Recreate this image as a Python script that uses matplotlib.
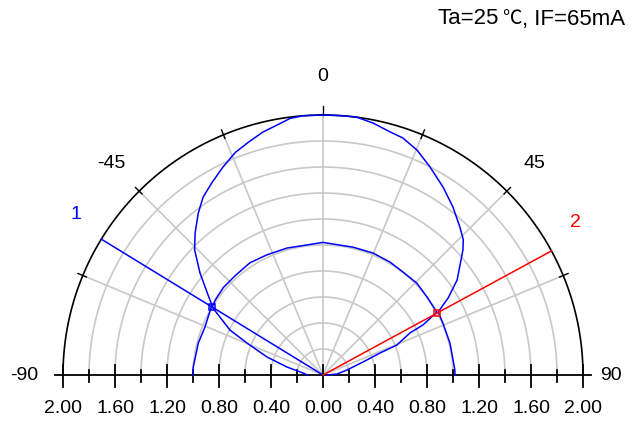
import numpy as np
import matplotlib
matplotlib.use("Agg")
import matplotlib.pyplot as plt

plt.rcParams['font.family'] = ['Liberation Sans', 'DejaVu Sans']

# Curve 1: outer lobe (angle in degrees from vertical, relative value 0..2)
angA = [-90, -86.5, -75.6, -67.9, -57.8, -54.7, -50.3, -45.7, -42.0, -37.7,
        -34.0, -29.9, -25.7, -21.5, -17.8, -13.9, -10.4, -7.3, -4.4, 0,
        4.4, 7.5, 11.2, 15.4, 18.6, 22.7, 27.2, 32.6, 37.7, 42.8,
        46.0, 48.2, 54.7, 58.4, 61.3, 66.6, 75.9, 87.8, 90]
rA = [1.00, 1.00, 0.99, 0.98, 1.01, 1.09, 1.23, 1.38, 1.47, 1.57,
      1.65, 1.71, 1.775, 1.84, 1.88, 1.925, 1.955, 1.99, 2.00, 2.00,
      2.00, 2.00, 1.976, 1.94, 1.924, 1.875, 1.80, 1.715, 1.634, 1.55,
      1.50, 1.444, 1.264, 1.13, 1.01, 1.005, 1.007, 1.015, 1.015]

# Curve 2: inner lobe
angB = [-90, -84.3, -77.5, -72.2, -67.2, -64.2, -58.5, -55.2, -48.7, -41.3,
        -33.1, -25.0, -15.8, -7.0, 0, 13.2, 22.3, 30.7, 37.8, 45.6,
        53.1, 61.1, 63.4, 64.2, 67.9, 68.9, 72.0, 78.2, 86.0, 90]
rB = [0.12, 0.155, 0.284, 0.452, 0.634, 0.795, 1.00, 1.01, 1.02, 1.02,
      1.03, 1.02, 1.015, 1.008, 1.02, 1.01, 1.014, 1.01, 1.003, 1.01,
      1.00, 1.00, 0.86, 0.743, 0.614, 0.47, 0.323, 0.189, 0.108, 0.03]

# Cursors
cursor_names = ["1", "2"]
cursor_ang = [-58.5, 61.5]
cursor_r = [1.0, 1.0]
cursor_cols = ["#0000ff", "#ff0000"]

rmax = 2.0
ring_vals = [0.2, 0.4, 0.6, 0.8, 1.0, 1.2, 1.4, 1.6, 1.8]
spoke_angs = [-67.5, -45, -22.5, 0, 22.5, 45, 67.5]
angle_labels = ["-90", "-45", "0", "45", "90"]
angle_label_pos = [-90, -45, 0, 45, 90]
base_ticks = [-2.0, -1.8, -1.6, -1.4, -1.2, -1.0, -0.8, -0.6, -0.4, -0.2, 0.0,
              0.2, 0.4, 0.6, 0.8, 1.0, 1.2, 1.4, 1.6, 1.8, 2.0]
base_labels = [-2.0, -1.6, -1.2, -0.8, -0.4, 0.0, 0.4, 0.8, 1.2, 1.6, 2.0]

fs = 14


def pol(ang, r):
    a = np.radians(np.asarray(ang, dtype=float))
    r = np.asarray(r, dtype=float)
    return r * np.sin(a), r * np.cos(a)


fig = plt.figure(figsize=(6.37, 4.36), dpi=100)
ax = fig.add_axes([0, 0, 1, 1])
ax.set_xlim(-323 / 130, 314 / 130)
ax.set_ylim(-61 / 130, 375 / 130)
ax.axis('off')

grey = '#c8c8c8'
arc = np.linspace(-90, 90, 361)
for rv in ring_vals:
    x, y = pol(arc, np.full_like(arc, rv))
    ax.plot(x, y, color=grey, lw=1.2, zorder=1)
for sa in spoke_angs:
    x, y = pol([sa, sa], [0, rmax])
    ax.plot(x, y, color=grey, lw=1.2, zorder=1)

# outer arc and its angle ticks
x, y = pol(arc, np.full_like(arc, rmax))
ax.plot(x, y, color='black', lw=1.2, zorder=3)
for sa in spoke_angs:
    lo, hi = (2.0, 2.07) if sa == 0 else (1.97, 2.04)
    x, y = pol([sa, sa], [lo, hi])
    ax.plot(x, y, color='black', lw=1.0, zorder=3)

# baseline with ticks
ax.plot([-2.06, 2.06], [0, 0], color='black', lw=1.3, zorder=4)
for t in base_ticks:
    major = any(abs(t - b) < 1e-9 for b in base_labels)
    if major:
        ax.plot([t, t], [0.077, -0.092], color='black', lw=1.3, zorder=4)
    else:
        ax.plot([t, t], [0.038, -0.054], color='black', lw=1.3, zorder=4)
for b in base_labels:
    ax.text(b, -0.258, "%.2f" % abs(b), ha='center', va='center', fontsize=fs)

# angle labels
for lab, la in zip(angle_labels, angle_label_pos):
    if la == -90:
        ax.text(-2.19, 0, lab, ha='right', va='center', fontsize=fs)
    elif la == 90:
        ax.text(2.13, 0, lab, ha='left', va='center', fontsize=fs)
    else:
        x, y = pol(la, 2.3)
        ax.text(x, y, lab, ha='center', va='center', fontsize=fs)

# curves
x, y = pol(angA, rA)
ax.plot(x, y, color='#0000ff', lw=1.1, zorder=5)
x, y = pol(angB, rB)
ax.plot(x, y, color='#0000ff', lw=1.1, zorder=5)

# cursors
for name, ca, cr, col in zip(cursor_names, cursor_ang, cursor_r, cursor_cols):
    x, y = pol([0, ca], [0, rmax])
    ax.plot(x, y, color=col, lw=1.1, zorder=6)
    mx, my = pol(ca, cr)
    ax.plot(mx, my, marker='s', ms=5, mfc='none', mec=col, mew=1.1, zorder=7)
    lx, ly = pol(ca + (1.5 if ca < 0 else -2.6), 2.27)
    ax.text(lx, ly, name, color=col, ha='center', va='center', fontsize=fs)

# condition note, top right; the degree sign comes from a CJK face
nfs = 16
fig.canvas.draw()
rend = fig.canvas.get_renderer()
ty = 1 - 19 / 436
part3 = fig.text(0.981, ty, ", IF=65mA", ha='right', va='center', fontsize=nfs)
x3 = part3.get_window_extent(rend).x0 / fig.bbox.width
part2 = fig.text(x3, ty, "℃", ha='right', va='center', fontsize=nfs - 2,
                 family=['Noto Sans CJK SC', 'DejaVu Sans'])
x2 = part2.get_window_extent(rend).x0 / fig.bbox.width
fig.text(x2 - 0.005, ty, "Ta=25", ha='right', va='center', fontsize=nfs)

fig.savefig("out.png", dpi=100)
